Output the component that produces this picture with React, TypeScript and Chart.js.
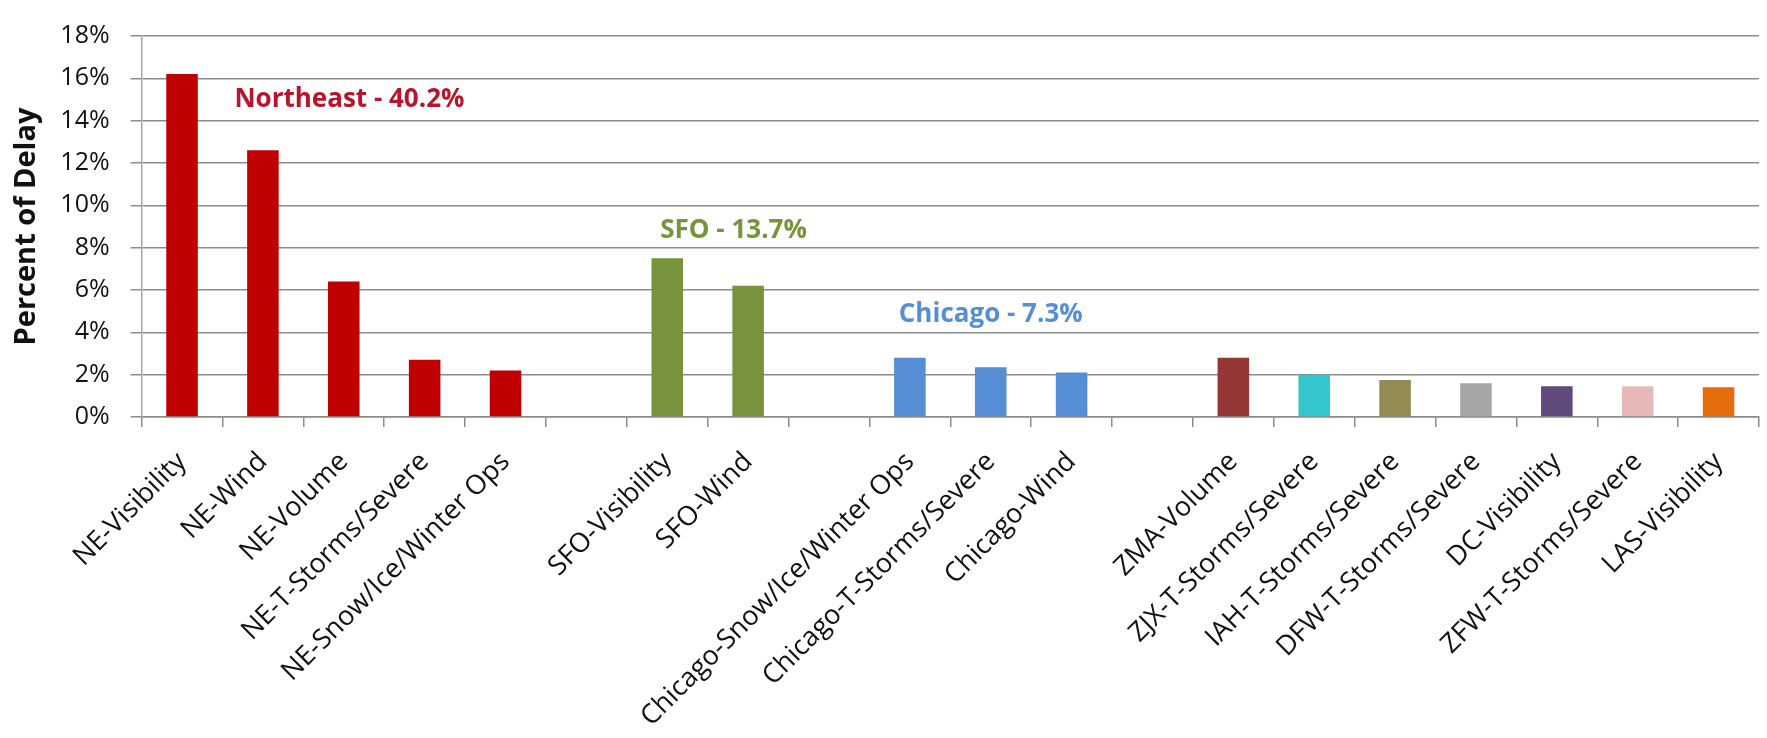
import React, { useEffect, useRef } from "react";
import { Chart, registerables } from "chart.js";

Chart.register(...registerables);

const categories: string[] = [
  "NE-Visibility",
  "NE-Wind",
  "NE-Volume",
  "NE-T-Storms/Severe",
  "NE-Snow/Ice/Winter Ops",
  "",
  "SFO-Visibility",
  "SFO-Wind",
  "",
  "Chicago-Snow/Ice/Winter Ops",
  "Chicago-T-Storms/Severe",
  "Chicago-Wind",
  "",
  "ZMA-Volume",
  "ZJX-T-Storms/Severe",
  "IAH-T-Storms/Severe",
  "DFW-T-Storms/Severe",
  "DC-Visibility",
  "ZFW-T-Storms/Severe",
  "LAS-Visibility",
];

const percentOfDelay: (number | null)[] = [
  16.2, 12.6, 6.4, 2.7, 2.2,
  null,
  7.5, 6.2,
  null,
  2.8, 2.35, 2.1,
  null,
  2.8, 2.0, 1.75, 1.6, 1.45, 1.45, 1.4,
];

const barColors: string[] = [
  "#C00000", "#C00000", "#C00000", "#C00000", "#C00000",
  "#FFFFFF",
  "#77933C", "#77933C",
  "#FFFFFF",
  "#558ED5", "#558ED5", "#558ED5",
  "#FFFFFF",
  "#953735", "#31C7CC", "#948A54", "#A6A6A6", "#604A7B", "#E6B9B8", "#E46C0A",
];

const yTicks = { min: 0, max: 18, step: 2 };

const groupLabels: string[] = ["Northeast - 40.2%", "SFO - 13.7%", "Chicago - 7.3%"];
const groupLabelX: number[] = [2.07, 6.82, 10.0];
const groupLabelY: number[] = [15.0, 8.8, 4.85];
const groupLabelColors: string[] = ["#B8142A", "#77933C", "#558ED5"];

const FONT = "'Open Sans', 'Noto Sans', sans-serif";

export default function App() {
  const canvasRef = useRef<HTMLCanvasElement | null>(null);

  useEffect(() => {
    document.body.style.margin = "0";
    const canvas = canvasRef.current;
    if (!canvas) return;

    const groupLabelPlugin = {
      id: "groupLabels",
      afterDatasetsDraw(chart: any) {
        const { ctx, scales } = chart;
        ctx.save();
        ctx.font = `bold 26px ${FONT}`;
        ctx.textAlign = "center";
        ctx.textBaseline = "middle";
        groupLabels.forEach((t, i) => {
          ctx.fillStyle = groupLabelColors[i];
          ctx.fillText(t, scales.x.getPixelForValue(groupLabelX[i]), scales.y.getPixelForValue(groupLabelY[i]));
        });
        ctx.restore();
      },
    };

    const chart = new Chart(canvas, {
      type: "bar",
      data: {
        labels: categories,
        datasets: [
          {
            data: percentOfDelay,
            backgroundColor: barColors,
            borderWidth: 0,
            barPercentage: 0.39,
            categoryPercentage: 1,
          },
        ],
      },
      options: {
        responsive: false,
        animation: false,
        layout: { padding: { top: 19, right: 8, left: 0, bottom: 0 } },
        plugins: {
          legend: { display: false },
          tooltip: { enabled: false },
        },
        scales: {
          x: {
            grid: {
              display: true,
              drawOnChartArea: false,
              drawTicks: true,
              tickLength: 10,
              color: "#8c8c8c",
              lineWidth: 1.5,
              offset: true,
            },
            border: { display: true, color: "#8c8c8c", width: 1.5 },
            ticks: {
              autoSkip: false,
              minRotation: 45,
              maxRotation: 45,
              padding: 19,
              color: "#111111",
              font: { family: FONT, size: 27 },
            },
            afterFit: (scale: any) => {
              scale.height = 321;
            },
          },
          y: {
            min: yTicks.min,
            max: yTicks.max,
            grid: {
              color: "#8c8c8c",
              lineWidth: 1.5,
              drawTicks: true,
              tickLength: 11,
            },
            border: { display: true, color: "#a6a6a6", width: 1.5 },
            ticks: {
              stepSize: yTicks.step,
              padding: 21,
              color: "#111111",
              font: { family: FONT, size: 25 },
              callback: (v: any) => `${v}%`,
            },
            title: {
              display: true,
              text: "Percent of Delay",
              color: "#111111",
              font: { family: FONT, size: 29, weight: "bold" },
              padding: { top: 9, bottom: 0 },
            },
            afterFit: (scale: any) => {
              scale.width = 141.6;
            },
          },
        },
      },
      plugins: [groupLabelPlugin],
    });

    return () => chart.destroy();
  }, []);

  return (
    <div style={{ width: 1767, height: 738, position: "relative", background: "#fff" }}>
      <canvas ref={canvasRef} width={1767} height={738} style={{ display: "block" }} />
    </div>
  );
}
